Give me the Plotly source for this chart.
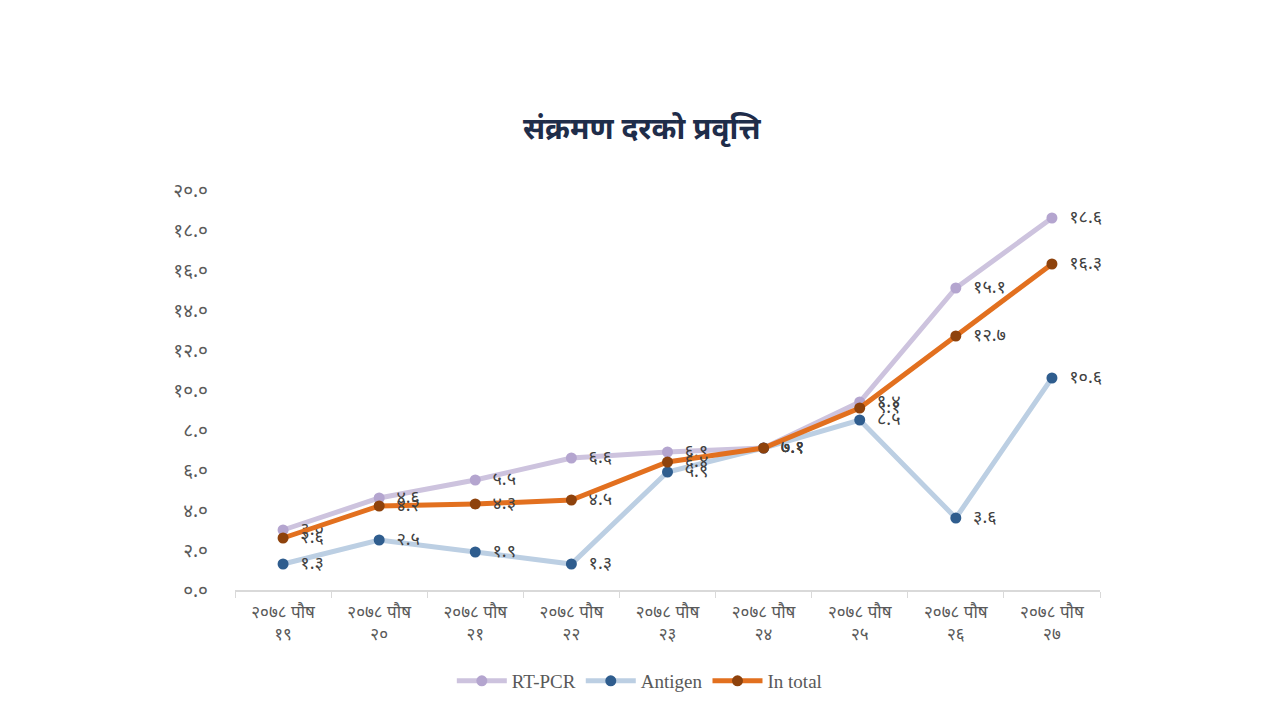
import plotly.graph_objects as go

categories = ["२०७८ पौष<br>१९", "२०७८ पौष<br>२०", "२०७८ पौष<br>२१", "२०७८ पौष<br>२२",
              "२०७८ पौष<br>२३", "२०७८ पौष<br>२४", "२०७८ पौष<br>२५", "२०७८ पौष<br>२६",
              "२०७८ पौष<br>२७"]
rt_pcr = [3.0, 4.6, 5.5, 6.6, 6.9, 7.1, 9.4, 15.1, 18.6]
antigen = [1.3, 2.5, 1.9, 1.3, 5.9, 7.1, 8.5, 3.6, 10.6]
in_total = [2.6, 4.2, 4.3, 4.5, 6.4, 7.1, 9.1, 12.7, 16.3]
y_ticks = [0, 2, 4, 6, 8, 10, 12, 14, 16, 18, 20]

DEV = str.maketrans("0123456789", "०१२३४५६७८९")


def dev(v):
    return f"{v:.1f}".translate(DEV)


FONT = "Noto Sans, DejaVu Sans, sans-serif"

series = [
    ("RT-PCR", rt_pcr, "#CDC3DE", "#B4A5CF"),
    ("Antigen", antigen, "#BCCFE3", "#2F5D8E"),
    ("In total", in_total, "#E2701F", "#8E420C"),
]

fig = go.Figure()
for name, vals, lc, mc in series:
    fig.add_trace(go.Scatter(
        x=categories, y=vals, name=name, mode="lines+markers+text",
        line=dict(color=lc, width=5),
        marker=dict(color=mc, size=11),
        text=["\u00a0\u00a0" + dev(v) for v in vals], textposition="middle right",
        textfont=dict(family=FONT, size=18, color="#404040"),
        cliponaxis=False,
    ))

# page body adds an 8px offset, so margins are shifted to compensate
fig.update_layout(
    width=1275, height=728,
    paper_bgcolor="white", plot_bgcolor="white",
    margin=dict(l=227, r=183, t=182, b=146),
    title=dict(text="<b>संक्रमण दरको प्रवृत्ति</b>", x=0.497, xanchor="center",
               y=0.835, yanchor="middle",
               font=dict(family=FONT, size=30, color="#1F2D4A")),
    showlegend=True,
    legend=dict(orientation="h", x=0.468, xanchor="center", y=-0.18, yanchor="top",
                font=dict(family="Liberation Serif, serif", size=19, color="#595959"),
                itemwidth=50),
    xaxis=dict(showgrid=False, showline=True, linecolor="#D9D9D9", linewidth=1.5,
               ticks="outside", tickson="boundaries", ticklen=6, tickcolor="#D9D9D9",
               tickfont=dict(family=FONT, size=17, color="#595959"),
               ticklabelstandoff=6, range=[-0.5, 8.5]),
    yaxis=dict(range=[0, 20], showgrid=False, zeroline=False, showline=False,
               tickvals=y_ticks, ticktext=[dev(v) for v in y_ticks],
               tickfont=dict(family=FONT, size=19, color="#595959"),
               ticklabelstandoff=26),
)

fig.write_html("out.html")
